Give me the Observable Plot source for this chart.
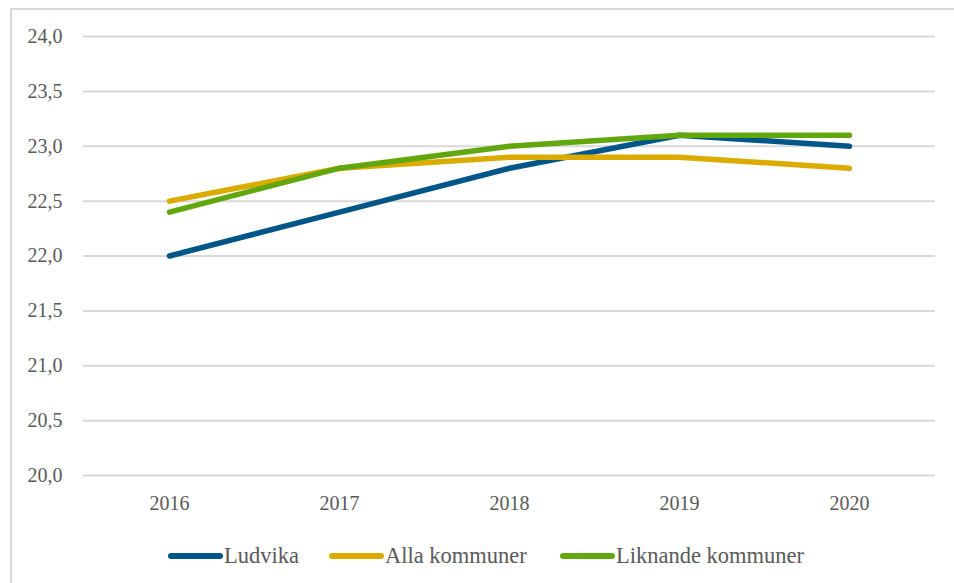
<!DOCTYPE html>
<html>
<head>
<meta charset="utf-8">
<script src="https://cdn.jsdelivr.net/npm/d3@7"></script>
<script src="https://cdn.jsdelivr.net/npm/@observablehq/plot@0.6"></script>
<style>
  html, body { margin: 0; padding: 0; background: #fff; width: 954px; height: 583px; overflow: hidden; }
  #frame { position: absolute; left: 10px; top: 8px; width: 944px; height: 575px;
           border-left: 2px solid #d9d9d9; border-top: 2px solid #d9d9d9; }
  #legend { position: absolute; left: 0; top: 534px; width: 100%; height: 44px;
            font-family: "Liberation Serif", "DejaVu Serif", "Liberation Sans", sans-serif; font-size: 22.5px; color: #595959; }
  .item { position: absolute; display: flex; align-items: center; white-space: nowrap; }
  .sw { display: inline-block; width: 55px; height: 6px; border-radius: 3px; margin-right: 1px; }
</style>
</head>
<body>
<div id="frame"><div id="chart"></div></div>
<div id="legend"></div>
<script>
const years = ["2016", "2017", "2018", "2019", "2020"];
const seriesNames = ["Ludvika", "Alla kommuner", "Liknande kommuner"];
const ludvika = [22.0, 22.4, 22.8, 23.1, 23.0];
const alla = [22.5, 22.8, 22.9, 22.9, 22.8];
const liknande = [22.4, 22.8, 23.0, 23.1, 23.1];
const colors = ["#005689", "#dcab00", "#63a70f"];
const yTicks = [20.0, 20.5, 21.0, 21.5, 22.0, 22.5, 23.0, 23.5, 24.0];

const allSeries = [ludvika, alla, liknande];
const data = [];
seriesNames.forEach((name, i) => {
  years.forEach((yr, j) => data.push({ series: name, year: yr, value: allSeries[i][j] }));
});

const fmt = v => v.toFixed(1).replace(".", ",");

const chart = Plot.plot({
  width: 942,
  height: 524,
  marginLeft: 71,
  marginRight: 19,
  marginTop: 26,
  marginBottom: 59,
  style: { fontFamily: "'Liberation Serif', 'DejaVu Serif', 'Liberation Sans', sans-serif", fontSize: "20px", color: "#595959", background: "#fff" },
  x: { type: "point", domain: years, padding: 0.5, label: null },
  y: { domain: [20, 24], label: null },
  color: { domain: seriesNames, range: colors },
  marks: [
    Plot.ruleY(yTicks, { stroke: "#d9d9d9", strokeWidth: 2 }),
    Plot.axisY({ ticks: yTicks, tickFormat: fmt, tickSize: 0, tickPadding: 21, label: null, fill: "#595959", fontSize: 20 }),
    Plot.axisX({ tickSize: 0, tickPadding: 20, label: null, fill: "#595959", fontSize: 20 }),
    Plot.line(data, { x: "year", y: "value", z: "series", stroke: "series", strokeWidth: 5.5, strokeLinecap: "round", strokeLinejoin: "round" })
  ]
});
document.getElementById("chart").appendChild(chart);

const legend = document.getElementById("legend");
const lefts = [168, 329, 560];
seriesNames.forEach((name, i) => {
  const it = document.createElement("div");
  it.className = "item";
  it.style.left = lefts[i] + "px";
  it.style.top = "9px";
  const sw = document.createElement("span");
  sw.className = "sw";
  sw.style.background = colors[i];
  const t = document.createElement("span");
  t.textContent = name;
  it.appendChild(sw);
  it.appendChild(t);
  legend.appendChild(it);
});
</script>
</body>
</html>
